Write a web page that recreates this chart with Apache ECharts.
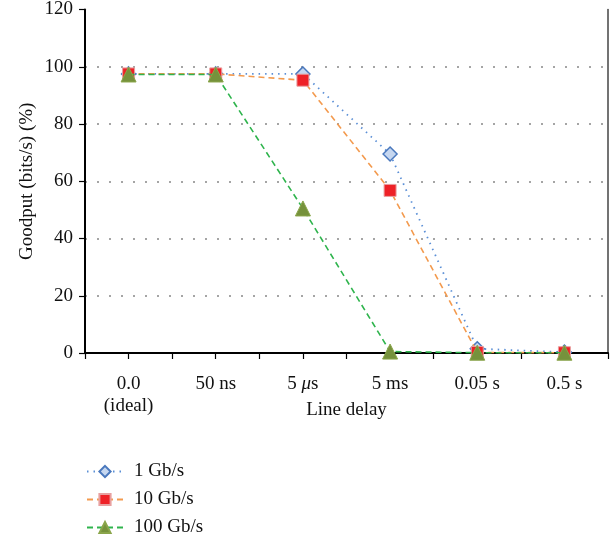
<!DOCTYPE html>
<html>
<head>
<meta charset="utf-8">
<script src="https://cdn.jsdelivr.net/npm/echarts@6/dist/echarts.min.js"></script>
<style>
  html, body { margin: 0; padding: 0; background: #fff; }
  #chart { width: 615px; height: 544px; }
</style>
</head>
<body>
<div id="chart"></div>
<script>
// 数据
const delays = ['0.0\n(ideal)', '50 ns', '5 μs', '5 ms', '0.05 s', '0.5 s']
const seriesNames = ['1 Gb/s', '10 Gb/s', '100 Gb/s']
const gb1 = [97.5, 97.5, 97.5, 69.5, 1.5, 0.3]
const gb10 = [97.5, 97.5, 95.3, 56.8, 0.2, 0.1]
const gb100 = [97.3, 97.3, 50.5, 0.5, 0.1, 0.1]
const yTicks = [0, 20, 40, 60, 80, 100, 120]

const font = 'Liberation Serif'
const fs = 19
const chart = echarts.init(document.getElementById('chart'))

// 刻度: 用第二个类目轴在类目中心和边界都画刻度
const halfCats = []
for (let i = 0; i < delays.length * 2; i++) halfCats.push(String(i))

const option = {
  animation: false,
  textStyle: { fontFamily: font },
  grid: { left: 85, right: 7, top: 8, bottom: 191 },
  legend: {
    orient: 'vertical',
    left: 86,
    top: 462,
    height: 90,
    itemWidth: 36,
    itemHeight: 14,
    itemGap: 9,
    padding: 0,
    textStyle: { fontFamily: font, fontSize: fs, color: '#111', padding: [0, 0, 0, 6] },
    data: seriesNames
  },
  xAxis: [
    {
      type: 'category',
      data: delays,
      boundaryGap: true,
      name: 'Line delay',
      nameLocation: 'middle',
      nameGap: 48,
      nameMoveOverlap: false,
      nameTextStyle: { fontFamily: font, fontSize: fs, color: '#111' },
      axisLine: { lineStyle: { color: '#000', width: 2 } },
      axisTick: { show: false },
      axisLabel: {
        color: '#111',
        fontSize: fs,
        fontFamily: font,
        margin: 20,
        lineHeight: 22,
        formatter: function (v) {
          if (v.indexOf('μ') >= 0) return '5 {i|μ}s'
          return v
        },
        rich: { i: { fontStyle: 'italic', fontSize: fs, fontFamily: font, color: '#111' } }
      }
    },
    {
      type: 'category',
      data: halfCats,
      position: 'bottom',
      boundaryGap: true,
      axisLine: { show: false },
      axisTick: { show: true, interval: 0, length: 6, lineStyle: { color: '#000', width: 1.2 } },
      axisLabel: { show: false }
    }
  ],
  yAxis: [
    {
      type: 'value',
      min: 0,
      max: 120,
      interval: 20,
      name: 'Goodput (bits/s) (%)',
      nameLocation: 'middle',
      nameGap: 48,
      nameMoveOverlap: false,
      nameTextStyle: { fontFamily: font, fontSize: fs, color: '#111' },
      axisLine: { show: true, lineStyle: { color: '#000', width: 2 } },
      axisTick: { show: true, length: 6, lineStyle: { color: '#000', width: 1.2 } },
      axisLabel: {
        color: '#111', fontSize: fs, fontFamily: font, margin: 12,
        formatter: function (v) { return yTicks.indexOf(v) >= 0 ? String(v) : '' }
      },
      splitLine: {
        show: true,
        showMaxLine: false,
        lineStyle: { color: '#888', type: [2, 10], width: 1.5 }
      }
    },
    {
      type: 'value',
      min: 0,
      max: 120,
      interval: 20,
      position: 'right',
      axisLine: { show: true, lineStyle: { color: '#444', width: 1.5 } },
      axisTick: { show: false },
      axisLabel: { show: false },
      splitLine: { show: false }
    }
  ],
  series: [
    {
      name: seriesNames[0],
      type: 'line',
      data: gb1,
      symbol: 'diamond',
      symbolSize: 14,
      lineStyle: { color: '#5b8fd6', width: 1.8, type: [1.5, 5] },
      itemStyle: { color: '#c6d7f0', borderColor: '#4a78bd', borderWidth: 1.5 },
      z: 3
    },
    {
      name: seriesNames[1],
      type: 'line',
      data: gb10,
      symbol: 'rect',
      symbolSize: 12,
      lineStyle: { color: '#f39a4e', width: 1.6, type: [6, 4] },
      itemStyle: { color: '#ee2127', borderColor: '#e8a0a0', borderWidth: 1 },
      z: 4
    },
    {
      name: seriesNames[2],
      type: 'line',
      data: gb100,
      symbol: 'triangle',
      symbolSize: 15,
      lineStyle: { color: '#2fb44d', width: 1.6, type: [6, 4] },
      itemStyle: { color: '#76923c', borderColor: '#8aa54a', borderWidth: 1 },
      z: 5
    }
  ]
}

chart.setOption(option)
</script>
</body>
</html>
